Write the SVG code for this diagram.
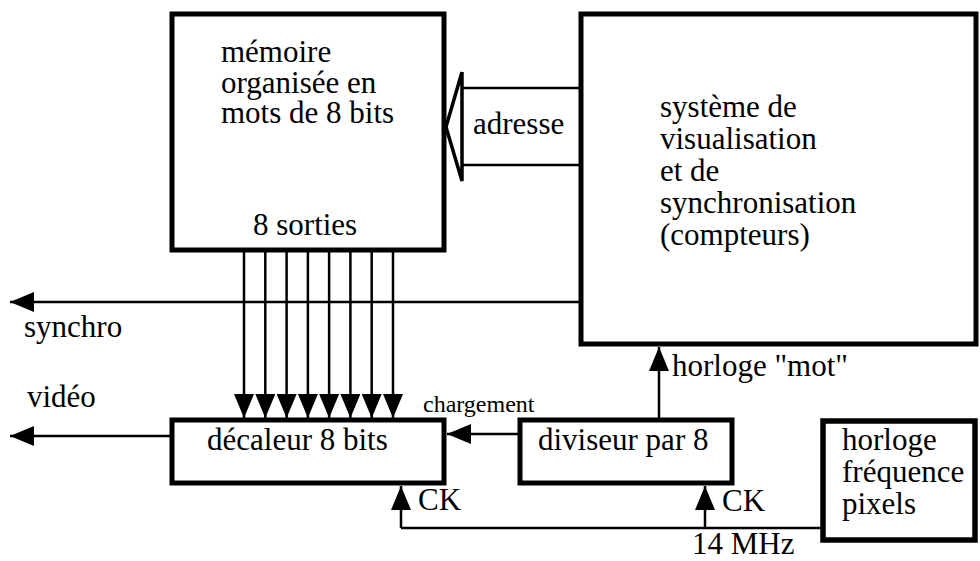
<svg xmlns="http://www.w3.org/2000/svg" width="980" height="561" viewBox="0 0 980 561">
<style>
  .box { fill: #fff; stroke: #000; stroke-width: 5; }
  .ln { fill: none; stroke: #000; stroke-width: 2.5; }
  .t { font-family: "Liberation Serif", "Times New Roman", serif; font-size: 31px; fill: #000; }
  .s { font-family: "Liberation Serif", "Times New Roman", serif; font-size: 24px; fill: #000; }
</style>
<defs>
  <marker id="ah" viewBox="0 0 24 20" refX="24" refY="10" markerWidth="24" markerHeight="20" markerUnits="userSpaceOnUse" orient="auto">
    <path d="M0,0 L24,10 L0,20 Z" fill="#000"/>
  </marker>
</defs>

<g id="connectors">
  <g id="adresse-arrow">
    <line class="ln" x1="462" y1="88" x2="581" y2="88"/>
    <line class="ln" x1="462" y1="165" x2="581" y2="165"/>
    <polyline fill="none" stroke="#000" stroke-width="3.5" points="462,72 446,127 462,181 462,72"/>
  </g>
  <line class="ln" x1="244" y1="250" x2="244" y2="418" marker-end="url(#ah)"/>
  <line class="ln" x1="265.3" y1="250" x2="265.3" y2="418" marker-end="url(#ah)"/>
  <line class="ln" x1="286.6" y1="250" x2="286.6" y2="418" marker-end="url(#ah)"/>
  <line class="ln" x1="307.9" y1="250" x2="307.9" y2="418" marker-end="url(#ah)"/>
  <line class="ln" x1="329.1" y1="250" x2="329.1" y2="418" marker-end="url(#ah)"/>
  <line class="ln" x1="350.4" y1="250" x2="350.4" y2="418" marker-end="url(#ah)"/>
  <line class="ln" x1="371.7" y1="250" x2="371.7" y2="418" marker-end="url(#ah)"/>
  <line class="ln" x1="393" y1="250" x2="393" y2="418" marker-end="url(#ah)"/>
  <line class="ln" x1="581" y1="302" x2="10" y2="302" marker-end="url(#ah)"/>
  <line class="ln" x1="172" y1="436" x2="10" y2="436" marker-end="url(#ah)"/>
  <line class="ln" x1="520" y1="434" x2="447" y2="434" marker-end="url(#ah)"/>
  <line class="ln" x1="659" y1="420" x2="659" y2="347" marker-end="url(#ah)"/>
  <polyline class="ln" points="823,528 401,528"/>
  <line class="ln" x1="401" y1="528" x2="401" y2="486" marker-end="url(#ah)"/>
  <line class="ln" x1="705" y1="528" x2="705" y2="486" marker-end="url(#ah)"/>
</g>

<g id="memoire">
  <rect class="box" x="172" y="14" width="272" height="236"/>
  <text class="t" x="221" y="62">mémoire</text>
  <text class="t" x="221" y="93">organisée en</text>
  <text class="t" x="221" y="123">mots de 8 bits</text>
  <text class="t" x="253" y="235">8 sorties</text>
</g>

<g id="systeme">
  <rect class="box" x="581" y="14" width="395" height="330"/>
  <text class="t" x="660" y="117">système de</text>
  <text class="t" x="660" y="149">visualisation</text>
  <text class="t" x="660" y="181">et de</text>
  <text class="t" x="660" y="213">synchronisation</text>
  <text class="t" x="660" y="245">(compteurs)</text>
</g>

<g id="decaleur">
  <rect class="box" x="172" y="420" width="272" height="63"/>
  <text class="t" x="207" y="450">décaleur 8 bits</text>
</g>

<g id="diviseur">
  <rect class="box" x="520" y="420" width="212" height="63"/>
  <text class="t" x="538" y="450">diviseur par 8</text>
</g>

<g id="horloge">
  <rect class="box" x="823" y="421" width="152" height="119" style="stroke-width:5.5"/>
  <text class="t" x="842" y="450">horloge</text>
  <text class="t" x="842" y="482">fréquence</text>
  <text class="t" x="842" y="514">pixels</text>
</g>

<g id="labels">
  <text class="t" x="473" y="134">adresse</text>
  <text class="t" x="24" y="337">synchro</text>
  <text class="t" x="27" y="407">vidéo</text>
  <text class="s" x="423" y="412">chargement</text>
  <text class="t" x="672" y="376">horloge "mot"</text>
  <text class="t" x="418" y="510">CK</text>
  <text class="t" x="722" y="511">CK</text>
  <text class="t" x="692" y="554">14 MHz</text>
</g>
</svg>
